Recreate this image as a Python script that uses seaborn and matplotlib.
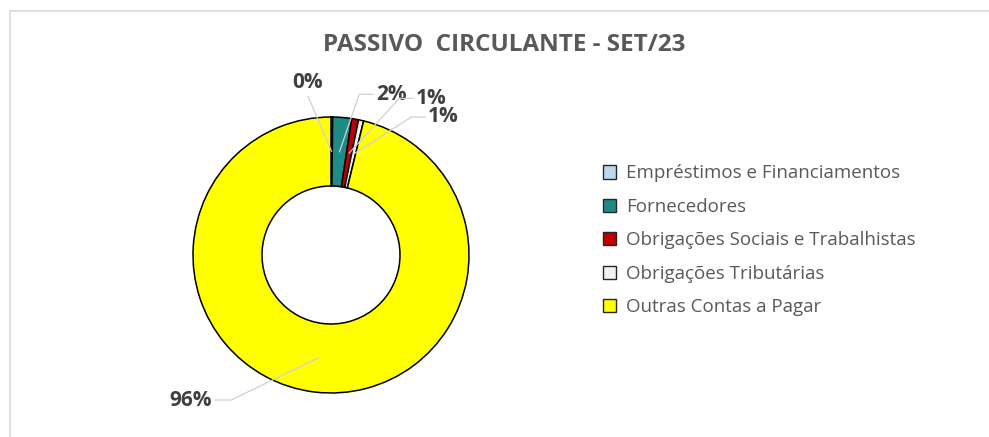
import numpy as np
import seaborn as sns
import matplotlib.pyplot as plt
from matplotlib.patches import Patch, Rectangle

# dados do gráfico
categorias = ['Empréstimos e Financiamentos', 'Fornecedores',
              'Obrigações Sociais e Trabalhistas', 'Obrigações Tributárias',
              'Outras Contas a Pagar']
valores = [0.2, 2.2, 0.8, 0.6, 96.2]
titulo = 'PASSIVO  CIRCULANTE - SET/23'

cores = ['#BDD7EE', '#1E8C86', '#C00000', '#F2F2F2', '#FFFF00']
# posição dos rótulos (x, y) em unidades do raio
pos_rotulos = [(-0.167, 1.25), (0.435, 1.165), (0.725, 1.135), (0.812, 1.0), (-1.014, -1.051)]

sns.set_theme(style='white')
plt.rcParams['font.family'] = ['Open Sans', 'DejaVu Sans']

fig = plt.figure(figsize=(9.89, 4.37), dpi=100)
fig.patches.append(Rectangle((10 / 989, -0.1), 1.1, (437 - 11) / 437 + 0.1,
                             transform=fig.transFigure, fill=False,
                             edgecolor='#D9D9D9', linewidth=1.2))

ax = fig.add_axes([193 / 989, 44 / 437, 276 / 989, 276 / 437])
wedges, _ = ax.pie(valores, colors=cores, startangle=90, counterclock=False,
                   radius=1, wedgeprops=dict(width=0.5, edgecolor='black', linewidth=1.1))
ax.set_xlim(-1, 1)
ax.set_ylim(-1, 1)
ax.set_aspect('equal')
ax.axis('off')

total = sum(valores)
for i, (w, v, (tx, ty)) in enumerate(zip(wedges, valores, pos_rotulos)):
    ang = np.deg2rad((w.theta1 + w.theta2) / 2)
    px, py = 0.75 * np.cos(ang), 0.75 * np.sin(ang)
    ax.text(tx, ty, f'{round(v / total * 100):.0f}%', ha='center', va='center',
            fontsize=15, fontweight='bold', color='#404040', clip_on=False)
    # linha guia: sai da lateral do rótulo e vai até o meio da fatia
    if tx < 0 and ty < 0:
        x0 = tx + 0.17
        pts = [(x0, ty), (x0 + 0.12, ty), (px, py)]
    elif i == 0:
        pts = [(tx, ty - 0.1), (px, py)]
    else:
        x0 = tx - 0.13
        pts = [(x0, ty), (x0 - 0.1, ty), (px, py)]
    xs, ys = zip(*pts)
    ax.plot(xs, ys, color='#D0D0D0', linewidth=0.9, clip_on=False, zorder=3)

fig.text(504 / 989, 1 - 45 / 437, titulo, ha='center', va='center',
         fontsize=17.5, fontweight='bold', color='#595959')

handles = [Patch(facecolor=c, edgecolor='#262626', linewidth=1.0) for c in cores]
fig.legend(handles, categorias, loc='upper left', bbox_to_anchor=(595 / 989, 1 - 157 / 437),
           frameon=False, fontsize=13.5, labelcolor='#595959', borderaxespad=0,
           handlelength=0.7, handleheight=0.7, handletextpad=0.55, labelspacing=0.82)

fig.savefig('out.png', dpi=100)
